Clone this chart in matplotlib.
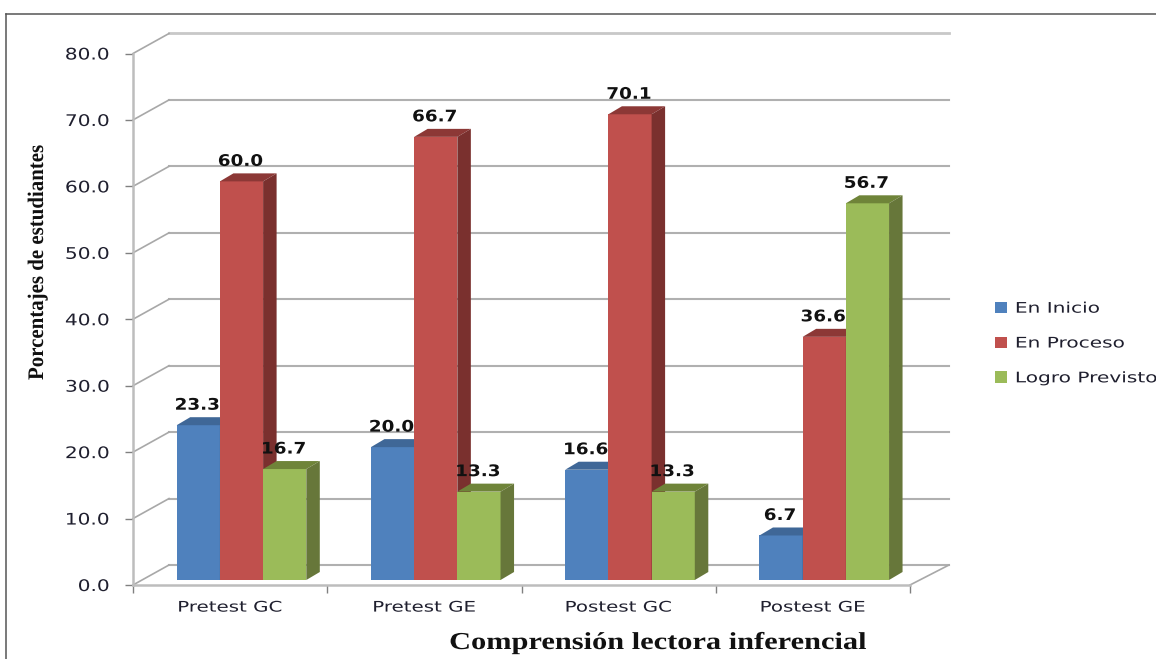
import matplotlib
matplotlib.use("Agg")
import matplotlib.pyplot as plt
import numpy as np
from matplotlib.lines import Line2D
from matplotlib.patches import Patch, Polygon
from matplotlib.patheffects import AbstractPathEffect
from matplotlib.transforms import Affine2D

categories = ["Pretest GC", "Pretest GE", "Postest GC", "Postest GE"]
en_inicio = [23.3, 20.0, 16.6, 6.7]
en_proceso = [60.0, 66.7, 70.1, 36.6]
logro_previsto = [16.7, 13.3, 13.3, 56.7]
y_ticks = [0, 10, 20, 30, 40, 50, 60, 70, 80]

W, H = 1156, 659
LEFT, RIGHT, TOP, BOTTOM = 133, 910, 53.5, 585

# one x unit is one category slot, one y unit is one percent
px_x = (RIGHT - LEFT) / len(categories)
px_y = (BOTTOM - TOP) / 80

# fake 3D offsets, wall and bar depth
wall_dx = 36 / px_x
wall_dy = 20 / px_y
bar_dx = 13.5 / px_x
bar_dy = 8 / px_y
bar_w = 43.2 / px_x
bar_start = 43.7 / px_x
bar_base = 5 / px_y
label_gap = 20 / px_y

series = [
    ("En Inicio", en_inicio, "#4f81bd", "#3f6797", "#385d8a"),
    ("En Proceso", en_proceso, "#c0504d", "#8c3836", "#7a302e"),
    ("Logro Previsto", logro_previsto, "#9bbb59", "#6f8439", "#67773a"),
]


# the original picture was squashed, so its text is wider than any font here
class Stretch(AbstractPathEffect):
    def __init__(self, sx, anchor=0.5):
        super().__init__()
        self.sx = sx
        self.anchor = anchor

    def draw_path(self, renderer, gc, tpath, affine, rgbFace=None):
        box = tpath.get_extents()
        cx = box.x0 + self.anchor * box.width
        stretch = Affine2D().translate(-cx, 0).scale(self.sx, 1).translate(cx, 0)
        renderer.draw_path(gc, tpath, stretch + affine, rgbFace)


fig = plt.figure(figsize=(W / 100, H / 100), dpi=100)
ax = fig.add_axes(
    [LEFT / W, (H - BOTTOM) / H, (RIGHT - LEFT) / W, (BOTTOM - TOP) / H]
)
ax.set_xlim(0, len(categories))
ax.set_ylim(0, 80)
ax.patch.set_alpha(0)

# outer frame of the picture, only top and left are visible
fig.add_artist(Line2D([6 / W, 6 / W], [0, 1 - 14 / H], color="#555555", lw=1.1))
fig.add_artist(Line2D([6 / W, 1], [1 - 14 / H, 1 - 14 / H], color="#555555", lw=1.1))

# back wall and side wall lines
x_end = len(categories) + 39 / px_x
for v in y_ticks:
    ax.plot(
        [wall_dx, x_end],
        [v + wall_dy, v + wall_dy],
        color="#c8c8c8" if v == 80 else "#b0b0b0",
        lw=2.0 if v == 80 else 1.5,
        clip_on=False,
        zorder=1,
    )
    ax.plot(
        [0, wall_dx],
        [v, v + wall_dy],
        color="#a8a8a8",
        lw=1.2,
        clip_on=False,
        zorder=1,
    )
ax.plot(
    [len(categories), x_end],
    [0, wall_dy],
    color="#a8a8a8",
    lw=1.2,
    clip_on=False,
    zorder=1,
)

# bars, painted left to right so each one hides the side of the previous
x_pos = np.arange(len(categories))
order = 3
for i in x_pos:
    for j, (name, values, front, top, side) in enumerate(series):
        x0 = i + bar_start + j * bar_w
        v = values[i] + bar_base
        ax.bar(
            x0,
            values[i],
            width=bar_w,
            bottom=bar_base,
            align="edge",
            color=front,
            clip_on=False,
            zorder=order,
        )
        ax.add_patch(
            Polygon(
                [
                    (x0, v),
                    (x0 + bar_w, v),
                    (x0 + bar_w + bar_dx, v + bar_dy),
                    (x0 + bar_dx, v + bar_dy),
                ],
                closed=True,
                facecolor=top,
                edgecolor="none",
                clip_on=False,
                zorder=order,
            )
        )
        ax.add_patch(
            Polygon(
                [
                    (x0 + bar_w, bar_base),
                    (x0 + bar_w + bar_dx, bar_base + bar_dy),
                    (x0 + bar_w + bar_dx, v + bar_dy),
                    (x0 + bar_w, v),
                ],
                closed=True,
                facecolor=side,
                edgecolor="none",
                clip_on=False,
                zorder=order,
            )
        )
        order += 1

# value labels sit on top of everything
for i in x_pos:
    for j, (name, values, front, top, side) in enumerate(series):
        ax.text(
            i + bar_start + (j + 0.5) * bar_w - 1 / px_x,
            values[i] + bar_base + label_gap,
            f"{values[i]:.1f}",
            ha="center",
            va="center",
            fontsize=11.5,
            fontweight="bold",
            color="#111111",
            zorder=50,
            path_effects=[Stretch(1.15)],
        )

# axes
for name in ["top", "right"]:
    ax.spines[name].set_visible(False)
for name in ["left", "bottom"]:
    ax.spines[name].set_color("#bdbdbd")
    ax.spines[name].set_linewidth(1.8)
    ax.spines[name].set_zorder(2)
ax.set_yticks(y_ticks)
ax.set_yticklabels(
    [f"{v:.1f}" for v in y_ticks],
    fontsize=11.5,
    color="#1f1f2e",
    path_effects=[Stretch(1.26, anchor=1.0)],
)
ax.tick_params(axis="y", length=6, width=1, color="#808080", pad=11)
ax.set_xticks(np.arange(len(categories) + 1))
ax.set_xticklabels([])
ax.tick_params(axis="x", length=6, width=1, color="#808080")
ax.set_xticks(x_pos + 0.5, minor=True)
ax.set_xticklabels(
    categories,
    minor=True,
    fontsize=10.5,
    color="#1f1f2e",
    path_effects=[Stretch(1.36)],
)
ax.tick_params(axis="x", which="minor", length=0, pad=10.5)

ax.set_xlabel(
    "Comprensión lectora inferencial",
    family="Liberation Serif",
    fontsize=17.5,
    fontweight="bold",
    color="#111111",
    path_effects=[Stretch(1.25)],
)
ax.xaxis.set_label_coords(657.5 / W, 1 - 643.5 / H, transform=fig.transFigure)
ax.xaxis.label.set_verticalalignment("center")
ax.set_ylabel(
    "Porcentajes de estudiantes",
    family="Liberation Serif",
    fontsize=16,
    fontweight="bold",
    color="#111111",
    path_effects=[Stretch(0.94)],
)
ax.yaxis.set_label_coords(38 / W, 1 - 262 / H, transform=fig.transFigure)
ax.yaxis.label.set_verticalalignment("center")

handles = [Patch(facecolor=s[2], edgecolor="none", label=s[0]) for s in series]
leg = fig.legend(
    handles=handles,
    loc="center left",
    bbox_to_anchor=(995 / W, 1 - 343 / H),
    frameon=False,
    fontsize=10.5,
    handlelength=0.85,
    handleheight=0.85,
    handletextpad=0.55,
    labelspacing=1.36,
    borderpad=0,
    borderaxespad=0,
    labelcolor="#1f1f2e",
)
for t in leg.get_texts():
    t.set_path_effects([Stretch(1.38, anchor=0.0)])

fig.savefig("out.png", dpi=100, facecolor="white")
